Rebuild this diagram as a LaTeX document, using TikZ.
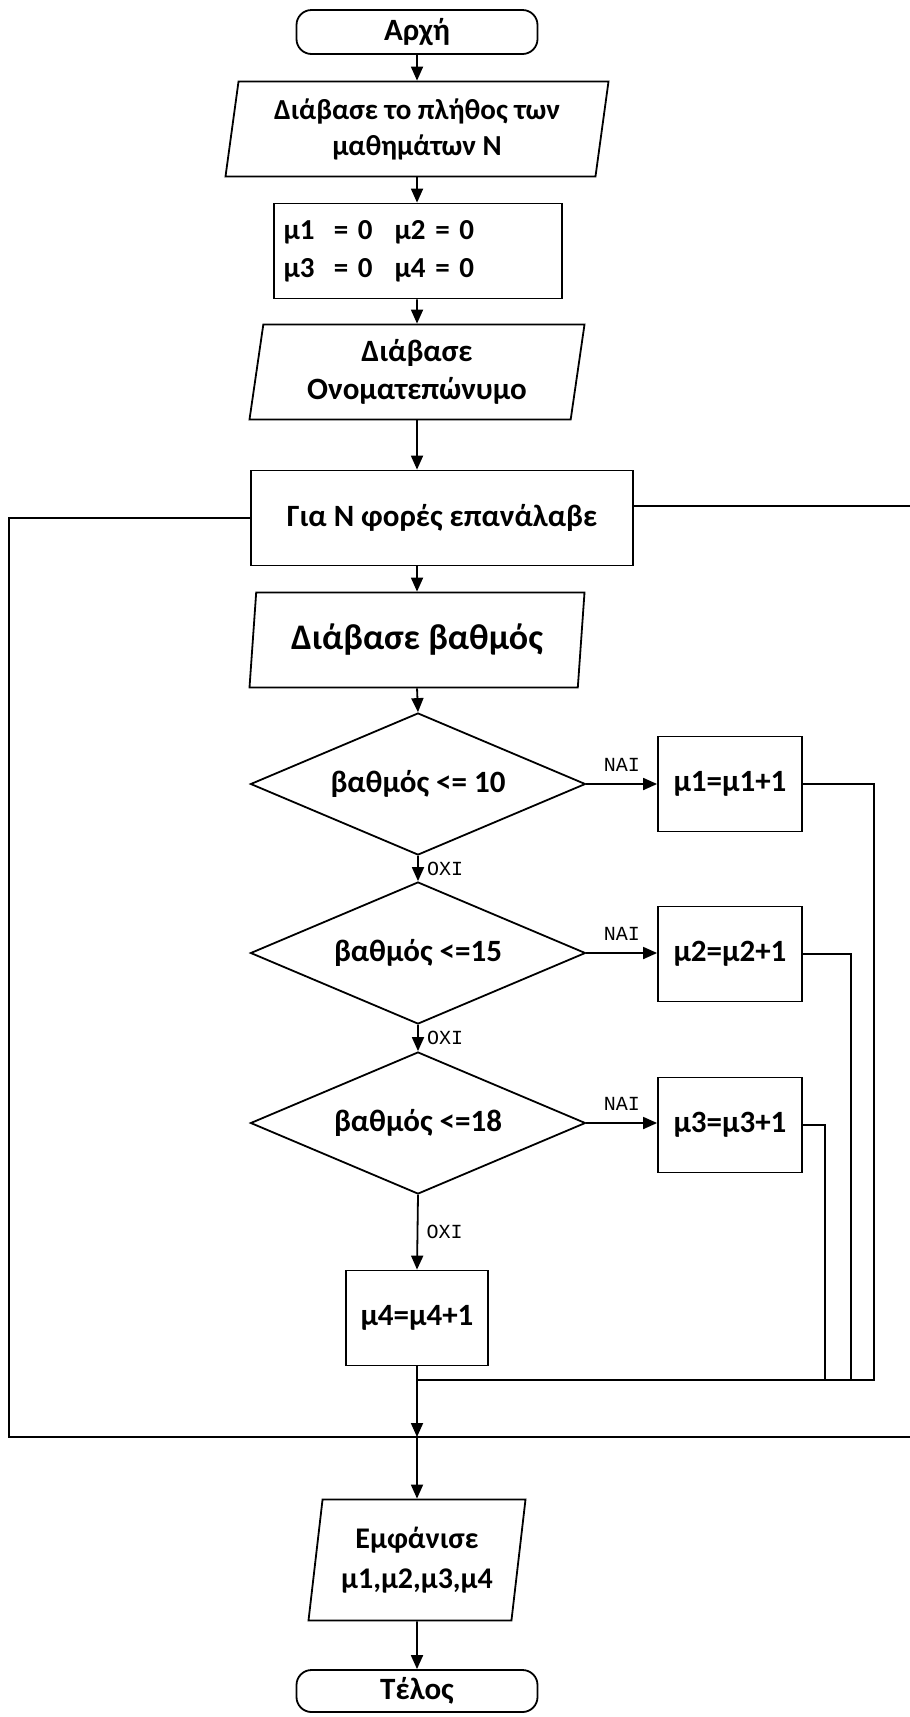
\documentclass[tikz,border=0pt]{standalone}
\usepackage{fontspec}
\setmainfont{Carlito}
\newfontfamily\labelfont{Liberation Mono}
\usetikzlibrary{positioning,calc,arrows.meta,shapes.geometric}

\begin{document}
\begin{tikzpicture}[x=1pt, y=-1pt,
    term/.style={rectangle, draw=black, line width=1.8pt, rounded corners=15pt, minimum width=241pt, minimum height=44pt, inner sep=0pt, font=\fontsize{31}{34}\selectfont\bfseries},
    io/.style={trapezium, trapezium left angle=78, trapezium right angle=102, trapezium stretches body, draw=black, line width=1.8pt, minimum height=95pt, inner sep=0pt, align=center, font=\fontsize{31}{38}\selectfont\bfseries},
    proc/.style={rectangle, draw=black, line width=1.8pt, minimum width=144pt, minimum height=95pt, align=center, font=\fontsize{31}{38}\selectfont\bfseries},
    decision/.style={diamond, draw=black, line width=1.8pt, aspect=2.36, minimum width=335pt, minimum height=142pt, inner sep=0pt, font=\fontsize{31}{34}\selectfont\bfseries},
    answer/.style={font=\labelfont\fontsize{20}{22}\selectfont},
    line/.style={draw=black, line width=1.8pt},
    arrow/.style={-{Triangle[length=14pt,width=12pt]}, draw=black, line width=1.8pt}
]
    \useasboundingbox [fill=white] (0,0) rectangle (910,1717);

    % Start and input
    \node (start) at (417,32) [term] {Αρχή};
    \node (read1) at (417,129) [io, minimum width=383pt, font=\fontsize{29}{36}\selectfont\bfseries] {Διάβασε το πλήθος των\\μαθημάτων Ν};
    \node (init) at (418,251) [proc, minimum width=288pt, text width=269pt, align=left, inner sep=9pt, font=\fontsize{29}{38}\selectfont\bfseries] {μ1\ \ = 0\hspace{22pt}μ2 = 0\\μ3\ \ = 0\hspace{22pt}μ4 = 0};
    \node (read2) at (417,372) [io, minimum width=335pt] {Διάβασε\\Ονοματεπώνυμο};

    % Loop block
    \node (loop) at (442,518) [proc, minimum width=382pt] {Για Ν φορές επανάλαβε};
    \node (read3) at (417,640) [io, minimum width=335pt, font=\fontsize{36}{40}\selectfont\bfseries] {Διάβασε βαθμός};

    % Decisions and counters
    \node (dec1) at (418,784) [decision] {βαθμός <= 10};
    \node (inc1) at (730,784) [proc] {μ1=μ1+1};
    \node (dec2) at (418,953) [decision] {βαθμός <=15};
    \node (inc2) at (730,954) [proc] {μ2=μ2+1};
    \node (dec3) at (418,1123) [decision] {βαθμός <=18};
    \node (inc3) at (730,1125) [proc] {μ3=μ3+1};
    \node (inc4) at (417,1318) [proc, minimum width=142pt] {μ4=μ4+1};

    % Output and end
    \node (show) at (417,1560) [io, minimum width=217pt, minimum height=121pt, font=\fontsize{30}{40}\selectfont\bfseries] {Εμφάνισε\\μ1,μ2,μ3,μ4};
    \node (stop) at (417,1691) [term, minimum height=42pt] {Τέλος};

    % Helper points
    \coordinate (merge) at (417,1380);
    \coordinate (ret1) at (874,1380);
    \coordinate (ret2) at (851,1380);
    \coordinate (ret3) at (825,1380);
    \coordinate (loopbot) at (417,1437);
    \coordinate (leftcorner) at (9,1437);
    \coordinate (rightend) at (910,1437);
    \coordinate (exitend) at (910,506);

    % Main flow
    \draw [arrow] (start.south) -- (read1.north);
    \draw [arrow] (read1.south) -- (read1.south |- init.north);
    \draw [arrow] (read1.south |- init.south) -- (read2.north);
    \draw [arrow] (read2.south) -- (read2.south |- loop.north);
    \draw [arrow] (read3.north |- loop.south) -- (read3.north);
    \draw [arrow] (read3.south) -- (dec1.north);

    % Yes branches
    \draw [arrow] (dec1.east) -- node [answer, above=8pt] {ΝΑΙ} (dec1.east -| inc1.west);
    \draw [arrow] (dec2.east) -- node [answer, above=8pt] {ΝΑΙ} (dec2.east -| inc2.west);
    \draw [arrow] (dec3.east) -- node [answer, above=8pt] {ΝΑΙ} (dec3.east -| inc3.west);

    % No branches
    \draw [arrow] (dec1.south) -- node [answer, right=5pt] {ΟΧΙ} (dec2.north);
    \draw [arrow] (dec2.south) -- node [answer, right=5pt] {ΟΧΙ} (dec3.north);
    \draw [arrow] (dec3.south) -- node [answer, right=5pt] {ΟΧΙ} (inc4.north);

    % Return lines
    \draw [line] (inc1.east) -| (ret1) -- (merge);
    \draw [line] (inc2.east) -| (ret2);
    \draw [line] (inc3.east) -| (ret3);
    \draw [arrow] (inc4.south) -- (loopbot);
    \draw [arrow] (loopbot) -- (show.north);
    \draw [arrow] (show.south) -- (stop.north);

    % Loop frame
    \draw [line] (loop.west) -| (leftcorner) -- (rightend);
    \draw [line] (exitend -| loop.east) -- (exitend);

\end{tikzpicture}
\end{document}
